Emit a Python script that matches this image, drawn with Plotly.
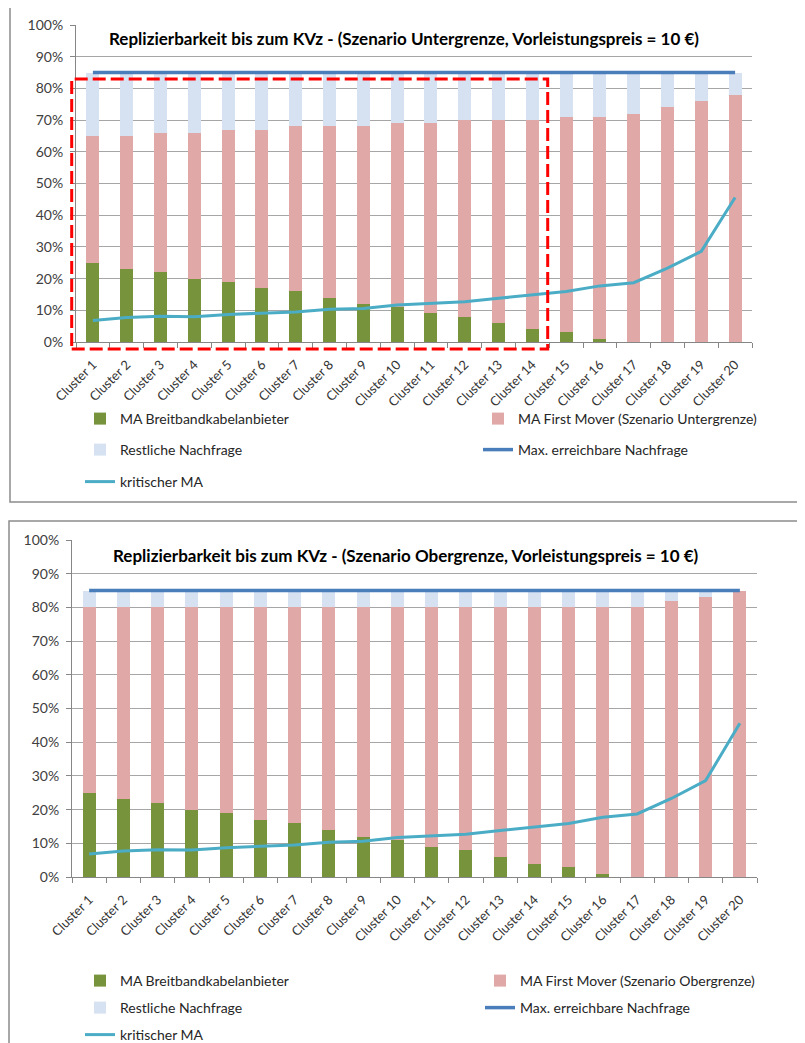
import plotly.graph_objects as go

# The page body adds an 8px offset; the figure is sized to fill the rest of the window.
OFF = 8
W, H = 805 - OFF, 1043 - OFF


def px(xp):
    return (xp - OFF) / W


def py(yp):
    return 1 - (yp - OFF) / H


clusters = ["Cluster 1", "Cluster 2", "Cluster 3", "Cluster 4", "Cluster 5",
            "Cluster 6", "Cluster 7", "Cluster 8", "Cluster 9", "Cluster 10",
            "Cluster 11", "Cluster 12", "Cluster 13", "Cluster 14", "Cluster 15",
            "Cluster 16", "Cluster 17", "Cluster 18", "Cluster 19", "Cluster 20"]

# MA Breitbandkabelanbieter (both scenarios)
ma_kabel = [25, 23, 22, 20, 19, 17, 16, 14, 12, 11, 9, 8, 6, 4, 3, 1, 0, 0, 0, 0]

# Scenario Untergrenze
fm_unter = [40, 42, 44, 46, 48, 50, 52, 54, 56, 58, 60, 62, 64, 66, 68, 70, 72, 74, 76, 78]
rest_unter = [20, 20, 19, 19, 18, 18, 17, 17, 17, 16, 16, 15, 15, 15, 14, 14, 13, 11, 9, 7]

# Scenario Obergrenze
fm_ober = [55, 57, 58, 60, 61, 63, 64, 66, 68, 69, 71, 72, 74, 76, 77, 79, 80, 82, 83, 85]
rest_ober = [5, 5, 5, 5, 5, 5, 5, 5, 5, 5, 5, 5, 5, 5, 5, 5, 5, 3, 2, 0]

max_nachfrage = [85] * 20
krit_ma = [6.8, 7.7, 8.1, 8.0, 8.7, 9.0, 9.5, 10.3, 10.6, 11.7,
           12.2, 12.7, 13.8, 14.9, 15.9, 17.7, 18.7, 23.3, 28.6, 45.6]

y_tickvals = [0, 10, 20, 30, 40, 50, 60, 70, 80, 90, 100]
y_ticktext = ["0%", "10%", "20%", "30%", "40%", "50%", "60%", "70%", "80%", "90%", "100%"]

titles = ["Replizierbarkeit bis zum KVz - (Szenario Untergrenze, Vorleistungspreis = 10 €)",
          "Replizierbarkeit bis zum KVz - (Szenario Obergrenze, Vorleistungspreis = 10 €)"]
fm_names = ["MA First Mover (Szenario Untergrenze)", "MA First Mover (Szenario Obergrenze)"]

GREEN = "#77933c"
PINK = "#e0a9a8"
REST = "#d6e1f2"
MAXBLUE = "#4a7ebb"
KRIT = "#4bacc6"
FONT = "Lato"

fig = go.Figure()

panels = [
    dict(xa="x", ya="y", fm=fm_unter, rest=rest_unter, n0=1),
    dict(xa="x2", ya="y2", fm=fm_ober, rest=rest_ober, n0=6),
]


def lg(n):
    return "legend" if n == 1 else "legend%d" % n


for i, p in enumerate(panels):
    n = p["n0"]
    fig.add_trace(go.Bar(x=clusters, y=ma_kabel, name="MA Breitbandkabelanbieter",
                         marker=dict(color=GREEN, line=dict(width=0)),
                         xaxis=p["xa"], yaxis=p["ya"], legend=lg(n)))
    fig.add_trace(go.Bar(x=clusters, y=p["fm"], name=fm_names[i],
                         marker=dict(color=PINK, line=dict(width=0)),
                         xaxis=p["xa"], yaxis=p["ya"], legend=lg(n + 1)))
    fig.add_trace(go.Bar(x=clusters, y=p["rest"], name="Restliche Nachfrage",
                         marker=dict(color=REST, line=dict(width=0)),
                         xaxis=p["xa"], yaxis=p["ya"], legend=lg(n + 2)))
    fig.add_trace(go.Scatter(x=clusters, y=max_nachfrage, name="Max. erreichbare Nachfrage",
                             mode="lines", line=dict(color=MAXBLUE, width=3.5),
                             xaxis=p["xa"], yaxis=p["ya"], legend=lg(n + 3)))
    fig.add_trace(go.Scatter(x=clusters, y=krit_ma, name="kritischer MA",
                             mode="lines", line=dict(color=KRIT, width=3),
                             xaxis=p["xa"], yaxis=p["ya"], legend=lg(n + 4)))


def xaxis_cfg(x0, x1, anchor):
    return dict(domain=[px(x0), px(x1)], anchor=anchor, type="category",
                showline=True, linecolor="#868686", linewidth=1,
                ticks="outside", tickson="boundaries", ticklen=5, tickcolor="#868686",
                tickangle=-45, showgrid=False, automargin=False, ticklabelstandoff=9,
                tickfont=dict(family=FONT, size=13, color="#333333"))


def yaxis_cfg(ytop, ybot, anchor):
    return dict(domain=[py(ybot), py(ytop)], anchor=anchor, range=[0, 100],
                tickvals=y_tickvals, ticktext=y_ticktext, showgrid=True, gridcolor="#a6a6a6",
                gridwidth=1, zeroline=False, showline=True, linecolor="#868686",
                ticks="outside", ticklen=5, tickcolor="#868686", automargin=False,
                ticklabelstandoff=4,
                tickfont=dict(family=FONT, size=14, color="#404040"))


def legend_cfg(xp, yp):
    return dict(orientation="h", x=px(xp), y=py(yp), xanchor="left", yanchor="middle",
                bgcolor="rgba(0,0,0,0)", font=dict(family=FONT, size=14, color="#262626"),
                itemwidth=30, traceorder="normal")


shapes = [
    dict(type="rect", xref="paper", yref="paper", x0=px(10), x1=1.02,
         y0=py(502), y1=py(7), line=dict(color="#8c8c8c", width=1.5)),
    dict(type="rect", xref="paper", yref="paper", x0=px(9), x1=1.02,
         y0=-0.02, y1=py(521), line=dict(color="#8c8c8c", width=1.5)),
    dict(type="rect", xref="paper", yref="paper", x0=px(71.7), x1=px(547.7),
         y0=py(349), y1=py(79), line=dict(color="#ff0000", width=3, dash="13px,5px"),
         layer="above"),
]

annotations = [
    dict(text="<b>" + titles[0] + "</b>", xref="paper", yref="paper", x=px(404), y=py(38),
         showarrow=False, xanchor="center", yanchor="middle",
         font=dict(family=FONT, size=17, color="#000000")),
    dict(text="<b>" + titles[1] + "</b>", xref="paper", yref="paper", x=px(405), y=py(555),
         showarrow=False, xanchor="center", yanchor="middle",
         font=dict(family=FONT, size=17, color="#000000")),
]

legend_pos = {
    1: (80, 419), 2: (478, 419), 3: (80, 450), 4: (478, 450), 5: (80, 482),
    6: (80, 981), 7: (480, 981), 8: (80, 1008), 9: (480, 1008), 10: (80, 1035),
}
legend_layout = {lg(k): legend_cfg(*v) for k, v in legend_pos.items()}

fig.update_layout(
    width=W, height=H, margin=dict(l=0, r=0, t=0, b=0, autoexpand=False),
    paper_bgcolor="white", plot_bgcolor="white",
    barmode="stack", bargap=0.615,
    xaxis=xaxis_cfg(76, 752, "y"), yaxis=yaxis_cfg(25, 342, "x"),
    xaxis2=xaxis_cfg(72, 757, "y2"), yaxis2=yaxis_cfg(540, 877, "x2"),
    shapes=shapes, annotations=annotations, showlegend=True,
    **legend_layout,
)

fig.write_html("out.html")
